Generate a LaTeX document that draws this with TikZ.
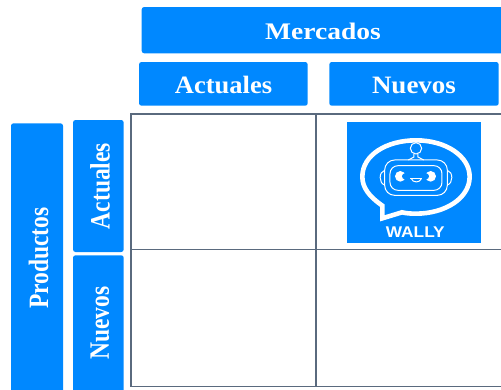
\documentclass[tikz,border=0pt]{standalone}
\usepackage{fontspec}
\setmainfont{Liberation Serif}
\newfontfamily\logofont{Liberation Sans}
\definecolor{boxblue}{HTML}{0088FF}
\definecolor{gridline}{HTML}{5A6A7E}
\tikzset{
  px/.style={x=1pt,y=-1pt},
  bluebox/.style={fill=boxblue,rounded corners=2.5pt},
  lbl/.style={text=white,inner sep=0pt,font=\bfseries\fontsize{25}{25}\selectfont},
  cell/.style={draw=gridline,line width=1.5pt},
  logoline/.style={draw=white,line width=1pt},
  logothick/.style={draw=white,line width=4.6pt,line join=miter}
}
\begin{document}
\begin{tikzpicture}[px]
\useasboundingbox (0,0) rectangle (501,389);
% header and side boxes
\fill[bluebox] (141.7,7) rectangle (510,53.3);
\node[lbl] (mercados) at (323,31) {\scalebox{1.1}[.95]{Mercados}};
\fill[bluebox] (139,62) rectangle (307.7,105.7);
\node[lbl] (actualesTop) at (223.5,85) {\scalebox{1.06}[1]{Actuales}};
\fill[bluebox] (329.3,62) rectangle (498.7,105.7);
\node[lbl] (nuevosTop) at (414,85) {\scalebox{1.08}[1]{Nuevos}};
\fill[bluebox] (11,123.3) rectangle (63,400);
\node[lbl,rotate=90] (productos) at (38.5,258) {\scalebox{.94}[1.12]{Productos}};
\fill[bluebox] (73,120) rectangle (123.7,252);
\node[lbl,rotate=90] (actualesSide) at (100,186) {\scalebox{.94}[1.12]{Actuales}};
\fill[bluebox] (73,255.3) rectangle (123.7,400);
\node[lbl,rotate=90] (nuevosSide) at (100,323) {\scalebox{.94}[1.12]{Nuevos}};
% grid
\draw[cell] (510,114) -- (131,114) -- (131,386.7) -- (510,386.7);
\draw[cell] (316,114) -- (316,386.7);
\draw[cell] (131,249.6) -- (510,249.6);
% logo
\fill[boxblue] (346.7,122) rectangle (480.7,242.7);
\begin{scope}[shift={(340,115)},x=.3333pt,y=-.3333pt]
  \draw[logothick]
    (127,272) .. controls (88,245) and (67,218) .. (67,185)
    .. controls (67,120) and (140,76) .. (228,76)
    .. controls (320,76) and (389,125) .. (389,185)
    .. controls (389,250) and (315,296) .. (228,296)
    .. controls (212,296) and (198,295) .. (186,292)
    -- (127,310) -- cycle;
  % head
  \draw[logoline,rounded corners=10pt] (134,135) rectangle (322,241);
  \draw[logoline,rounded corners=8pt] (150,152) rectangle (306,226);
  % ears
  \draw[logoline] (134,166) .. controls (116,170) and (116,205) .. (134,210);
  \draw[logoline] (322,166) .. controls (340,170) and (340,205) .. (322,210);
  % antenna
  \draw[logoline] (228,100) circle[radius=17];
  \draw[logoline] (222,116) -- (222,126) -- (205,135);
  \draw[logoline] (234,116) -- (234,126) -- (251,135);
  % eyes
  \fill[white] (181,184) circle[radius=16];
  \fill[boxblue] (195,184) circle[radius=9];
  \fill[white] (272,184) circle[radius=16];
  \fill[boxblue] (258,184) circle[radius=9];
  % mouth
  \draw[logoline] (211,191) -- (247,191);
  \draw[logoline] (214,191) .. controls (218,204) and (240,204) .. (244,191);
\end{scope}
\node[text=white,inner sep=0pt,font=\logofont\bfseries\fontsize{16}{16}\selectfont] (wally) at (415.3,232) {\scalebox{1.08}[.97]{WALLY}};
\end{tikzpicture}
\end{document}
